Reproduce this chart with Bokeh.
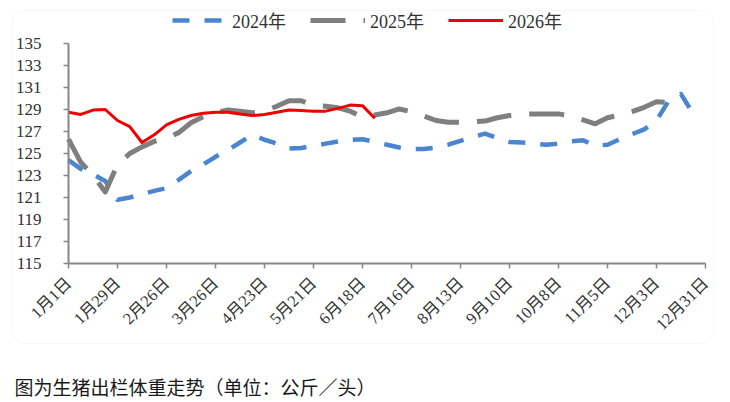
import math
from bokeh.plotting import figure
from bokeh.models import (Range1d, FixedTicker, Legend, LegendItem, BoxAnnotation, Label,
                          LinearAxis)
from bokeh.embed import file_html
from bokeh.resources import INLINE

# ---------------- data ----------------
tick_labels = ["1月1日", "1月29日", "2月26日", "3月26日", "4月23日", "5月21日", "6月18日",
               "7月16日", "8月13日", "9月10日", "10月8日", "11月5日", "12月3日", "12月31日"]
series_names = ["2024年", "2025年", "2026年"]

w2024 = [124.4, 123.6, 123.1, 122.5, 120.8, 121.0, 121.3, 121.6, 121.85, 122.6,
         123.4, 124.0, 124.7, 125.3, 126.0, 126.7, 126.25, 125.9, 125.45, 125.5,
         125.7, 125.9, 126.1, 126.25, 126.3, 126.05, 125.8, 125.55, 125.4, 125.4,
         125.55, 125.8, 126.15, 126.5, 126.8, 126.4, 126.05, 126.0, 125.9, 125.8,
         125.9, 126.1, 126.2, 125.7, 125.8, 126.3, 126.75, 127.2, 128.0, 129.8,
         130.4, 128.6]
w2025 = [126.3, 124.2, 123.0, 121.5, 124.0, 125.0, 125.6, 126.1, 126.4, 126.9,
         127.8, 128.35, 128.7, 128.95, 128.85, 128.7, 128.85, 129.3, 129.8, 129.8,
         129.35, 129.3, 129.15, 128.85, 128.3, 128.5, 128.7, 129.05, 128.8, 128.4,
         128.0, 127.85, 127.85, 127.9, 127.95, 128.25, 128.45, 128.55, 128.6, 128.6,
         128.6, 128.4, 128.05, 127.7, 128.25, 128.5, 128.8, 129.2, 129.7, 129.65,
         130.0]
w2026 = [128.75, 128.55, 128.95, 129.0, 128.0, 127.45, 126.0, 126.7, 127.6, 128.1,
         128.45, 128.65, 128.75, 128.75, 128.6, 128.45, 128.55, 128.75, 128.95, 128.9,
         128.85, 128.85, 129.1, 129.4, 129.35, 128.2]

caption = "图为生猪出栏体重走势（单位：公斤／头）"

X_START, X_END = 0, 364          # 1月1日 .. 12月31日 (day of year)
Y_START, Y_END = 115, 135

# week index -> day of year
def days(vals):
    return [7 * i for i in range(len(vals))]

FONT_SERIF = "'Liberation Serif', 'Noto Sans CJK SC', serif"
FONT_SANS = "'Noto Sans CJK SC', sans-serif"

# canvas geometry (pixels): the whole canvas is the frame, axes are pinned inside it
W, H = 728, 400
AX_L, AX_R, AX_T, AX_B = 68, 705, 43, 263
ppx = (AX_R - AX_L) / (X_END - X_START)
ppy = (AX_B - AX_T) / (Y_END - Y_START)
x_range = Range1d(X_START - AX_L / ppx, X_END + (W - AX_R) / ppx)
y_range = Range1d(Y_START - (H - AX_B) / ppy, Y_END + AX_T / ppy)

p = figure(width=W, height=H, output_backend="svg", toolbar_location=None,
           x_range=x_range, y_range=y_range, x_axis_type=None, y_axis_type=None,
           min_border=0)
p.outline_line_color = None
p.background_fill_color = "white"
p.border_fill_color = "white"
p.xgrid.grid_line_color = None
p.ygrid.grid_line_color = None

# card border
card = BoxAnnotation(left=12, right=713, top=10, bottom=343,
                     left_units="canvas", right_units="canvas",
                     top_units="canvas", bottom_units="canvas",
                     fill_alpha=0, line_color="#e6e6e6", line_width=1,
                     border_radius=12, level="underlay")
p.add_layout(card)

r24 = p.line(days(w2024), w2024, line_color="#4a86cf", line_width=4.5,
             line_dash="17 15", line_join="round")
r25 = p.line(days(w2025), w2025, line_color="#7f7f7f", line_width=5,
             line_dash="35 18", line_join="round")
r26 = p.line(days(w2026), w2026, line_color="#ee0000", line_width=3,
             line_join="round")

xaxis = LinearAxis(fixed_location=Y_START, bounds=(X_START, X_END),
                   ticker=FixedTicker(ticks=[28 * i for i in range(len(tick_labels))]),
                   major_label_overrides={28 * i: t for i, t in enumerate(tick_labels)},
                   major_label_orientation=math.pi / 4,
                   major_label_text_font_size="16.5px", major_label_standoff=12)
yaxis = LinearAxis(fixed_location=X_START, bounds=(Y_START, Y_END),
                   ticker=FixedTicker(ticks=list(range(Y_START, Y_END + 1, 2))),
                   major_label_text_font_size="17px", major_label_standoff=22)
for ax in (xaxis, yaxis):
    ax.axis_line_color = "#878787"
    ax.axis_line_width = 2
    ax.major_tick_line_color = "#878787"
    ax.major_tick_line_width = 1.5
    ax.major_tick_out = 5
    ax.major_tick_in = 0
    ax.minor_tick_line_color = None
    ax.major_label_text_font = FONT_SERIF
    ax.major_label_text_color = "#333333"
p.add_layout(xaxis, "below")
p.add_layout(yaxis, "left")

legend = Legend(items=[LegendItem(label=series_names[0], renderers=[r24]),
                       LegendItem(label=series_names[1], renderers=[r25]),
                       LegendItem(label=series_names[2], renderers=[r26])],
                orientation="horizontal", location=(172, H - 33),
                glyph_width=55, glyph_height=22, label_standoff=5, spacing=24,
                padding=0, margin=0, border_line_color=None, background_fill_alpha=0,
                label_text_font=FONT_SERIF, label_text_font_size="18px",
                label_text_color="#333333")
p.add_layout(legend)

cap = Label(x=14, y=386, x_units="canvas", y_units="canvas", text=caption,
            text_font=FONT_SANS, text_font_size="19px", text_color="#1a1a1a",
            text_baseline="middle")
p.add_layout(cap)

open("out.html", "w").write(file_html(p, INLINE))
